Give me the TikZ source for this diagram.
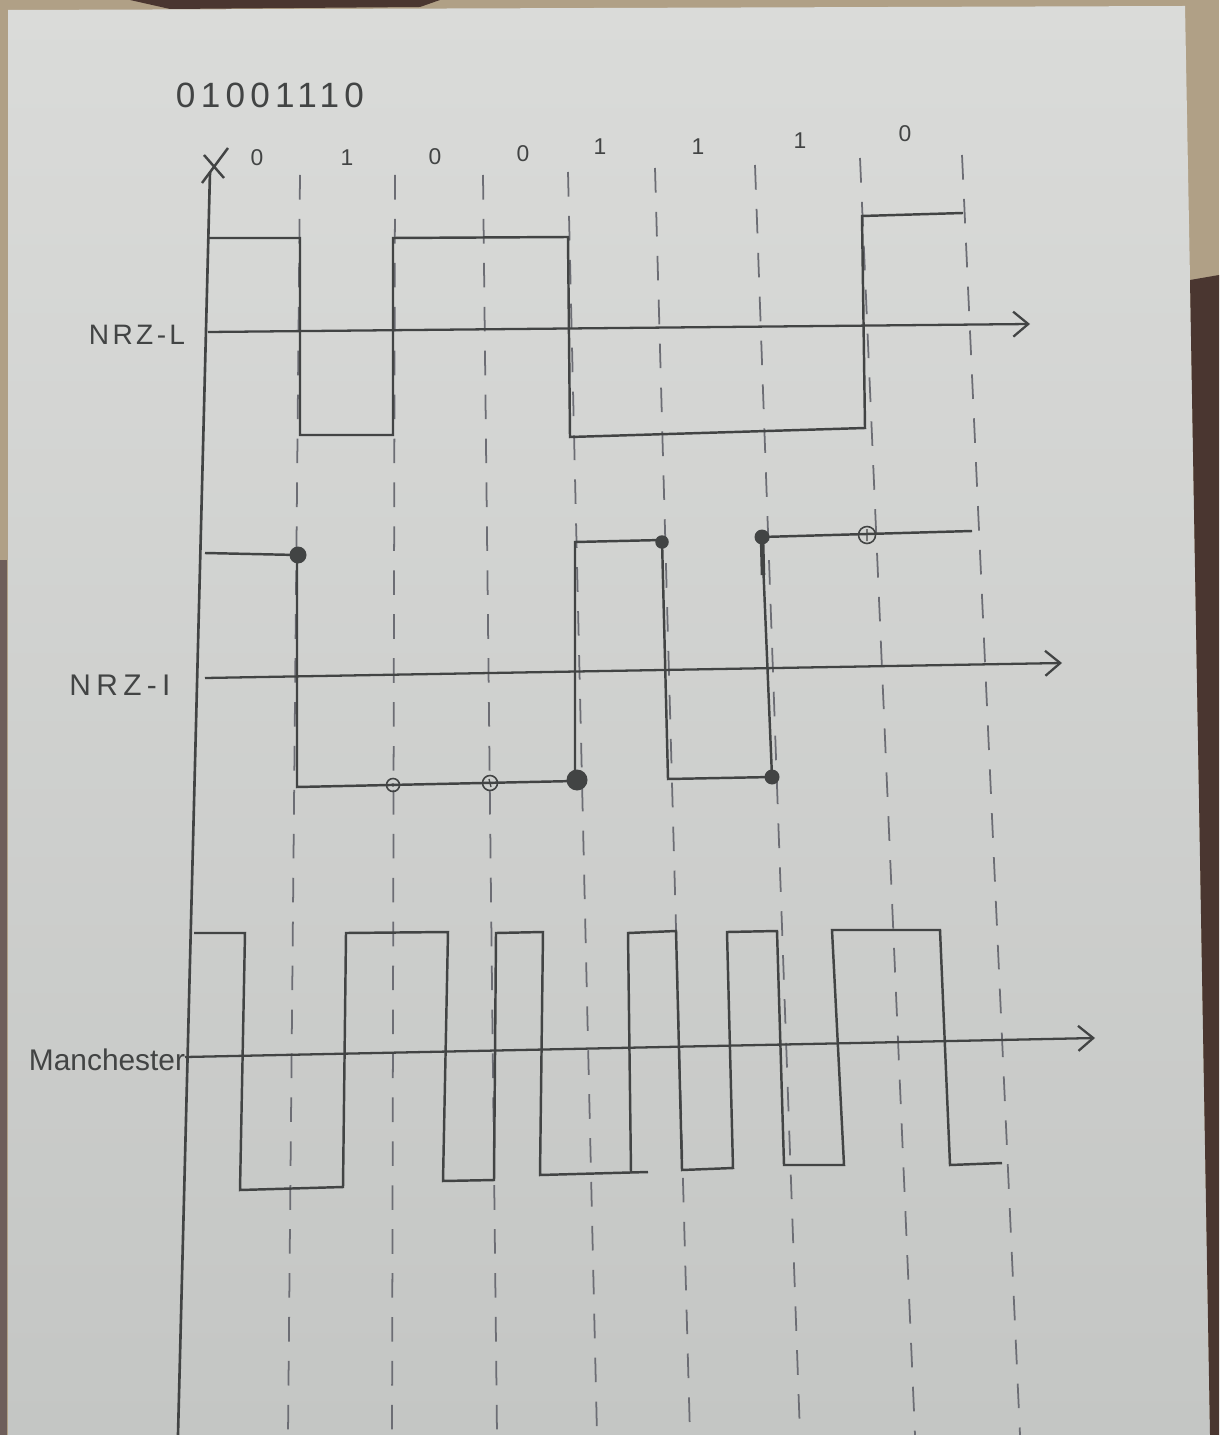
\documentclass[tikz,border=0pt]{standalone}
\usepackage{fontspec}
\usepackage{tikz}
\usetikzlibrary{arrows.meta, positioning, calc}
\setsansfont{Liberation Sans}
\definecolor{cPaperT}{RGB}{218,219,217}
\definecolor{cPaperB}{RGB}{196,198,196}
\definecolor{cInk}{RGB}{66,68,68}
\definecolor{cPencil}{RGB}{108,109,116}
\definecolor{cWood}{RGB}{176,160,134}
\definecolor{cDark}{RGB}{74,54,48}
\tikzset{
	wave/.style   ={cInk, line width=1.4pt, line join=miter},
	taxis/.style  ={cInk, line width=1.3pt, -{Straight Barb[length=3mm, width=5mm]}},
	slot/.style   ={cPencil, line width=1pt, dash pattern=on 14pt off 11pt},
	lbl/.style    ={text=cInk, font=\sffamily\fontsize{16}{18}\selectfont\addfontfeatures{LetterSpace=12}, inner sep=0pt},
	bitlbl/.style ={text=cInk, font=\sffamily\fontsize{13}{15}\selectfont, inner sep=0pt},
	% NRZ-I markers
	hit/.style    ={circle, fill=cInk, inner sep=0pt},
	miss/.style   ={circle, draw=cInk, line width=0.9pt, inner sep=0pt, minimum size=0.3cm},
}
\begin{document}
\begin{tikzpicture}[x=0.02cm, y=-0.02cm]
\useasboundingbox (0,0) rectangle (1219,1435);
% paper and table
\fill[cWood] (0,0) rectangle (1219,1435);
\shade[top color=cPaperT, bottom color=cPaperB] (8,10) -- (1185,6) -- (1190,280) -- (1210,1435) -- (8,1435) -- cycle;
\fill[cDark] (1190,280) -- (1219,275) -- (1219,1435) -- (1210,1435) -- cycle;
\fill[cDark] (130,0) -- (440,0) -- (420,7) -- (170,9) -- cycle;
\fill[cDark!80] (0,560) rectangle (7,1435);
% bit slots
\foreach \xt/\yt/\xb in {300/175/288, 395/175/392, 483/175/497, 568/172/597, 655/168/690, 755/165/800, 860/158/915, 962/155/1020}
	\draw[slot] (\xt,\yt) -- (\xb,1435);
% time axes
\draw[wave, line width=1.5pt] (210,172) -- (178,1435);
\draw[wave] (202,183) -- (228,148) (204,155) -- (224,178);
\draw[taxis] (208,332) -- (1030,324);
\draw[taxis] (205,678) -- (1062,663);
\draw[taxis] (185,1057) -- (1095,1038);
% labels
\node[lbl, font=\sffamily\fontsize{20}{22}\selectfont\addfontfeatures{LetterSpace=15}] (data) at (270,95) {01001110};
\foreach \x/\y/\b [count=\i] in {257/158/0, 347/158/1, 435/157/0, 523/154/0, 600/147/1, 698/147/1, 800/141/1, 905/134/0}
	\node[bitlbl] (bit\i) at (\x,\y) {\b};
\node[lbl] (nrzl) at (137,335) {NRZ-L};
\node[lbl, font=\sffamily\fontsize{17}{19}\selectfont\addfontfeatures{LetterSpace=18}] (nrzi) at (120,685) {NRZ-I};
\node[lbl, font=\sffamily\fontsize{17}{19}\selectfont] (manch) at (107,1060) {Manchester};
% NRZ-L
\draw[wave] (208,238) -- (300,238) -- (300,435) -- (393,435) -- (393,238) -- (568,237) -- (570,437) -- (865,428) -- (862,216) -- (963,213);
% NRZ-I
\draw[wave] (205,553) -- (297,555) -- (297,787) -- (575,781) -- (575,542) -- (662,540) -- (668,779) -- (772,777) -- (762,537) -- (972,531);
\draw[cInk, line width=2.6pt] (762,537) -- (763,575);
\foreach \x/\y/\s [count=\i] in {298/555/0.34cm, 577/780/0.42cm, 662/542/0.27cm, 762/537/0.3cm, 772/777/0.3cm}
	\node[hit, minimum size=\s] (hit\i) at (\x,\y) {};
\node[miss, minimum size=0.26cm] (miss1) at (393,785) {};
\node[miss] (miss2) at (490,783) {};
\node[miss, minimum size=0.34cm] (miss3) at (867,535) {};
\fill[cInk] (miss1) circle (1.8);
\draw[cInk, line width=0.7pt] (489,779) -- (491,787) (867,529) -- (867,541);
% Manchester
\draw[wave] (194,933) -- (245,933) -- (240,1190) -- (343,1187) -- (346,933) -- (448,932) -- (443,1181) -- (494,1180) -- (496,933) -- (543,932) -- (540,1175) -- (648,1172);
\draw[wave] (631,1173) -- (628,933) -- (676,931) -- (682,1170) -- (733,1168) -- (727,932) -- (777,931) -- (784,1165) -- (844,1165) -- (832,930) -- (940,930) -- (950,1165) -- (1002,1163);
\end{tikzpicture}
\end{document}
